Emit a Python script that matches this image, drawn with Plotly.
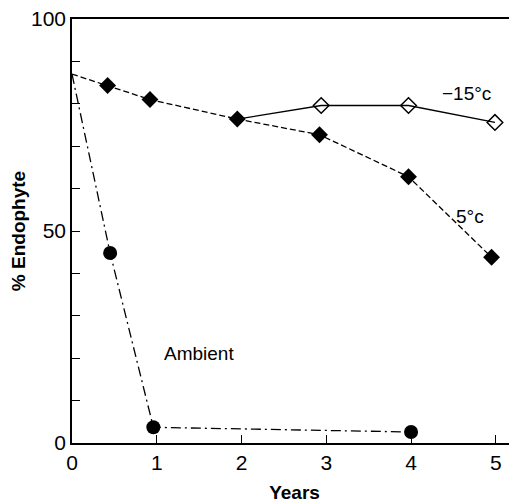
import plotly.graph_objects as go

# Data (years, % endophyte)
years_5c = [0, 0.42, 0.92, 1.95, 2.92, 3.97, 4.95]
vals_5c = [87, 84.3, 81, 76.4, 72.7, 62.8, 43.8]

years_m15 = [1.95, 2.94, 3.97, 4.99]
vals_m15 = [76.4, 79.6, 79.6, 75.6]

years_amb = [0, 0.45, 0.96, 4.0]
vals_amb = [87, 44.8, 3.7, 2.6]

labels = ["\u221215\u00b0c", "5\u00b0c", "Ambient"]
label_x = [4.65, 4.7, 1.5]
label_y = [82.5, 53.5, 21]

x_ticks = [0, 1, 2, 3, 4, 5]
y_ticks = [0, 50, 100]

fig = go.Figure()

fig.add_trace(go.Scatter(
    x=years_amb, y=vals_amb, mode="lines",
    line=dict(color="black", width=1.3, dash="10px,4px,2px,4px"),
    showlegend=False, hoverinfo="skip"))
fig.add_trace(go.Scatter(
    x=years_amb[1:], y=vals_amb[1:], mode="markers",
    marker=dict(symbol="circle", size=14, color="black"),
    showlegend=False))

fig.add_trace(go.Scatter(
    x=years_5c, y=vals_5c, mode="lines",
    line=dict(color="black", width=1.3, dash="6px,3px"),
    showlegend=False, hoverinfo="skip"))
fig.add_trace(go.Scatter(
    x=years_5c[1:], y=vals_5c[1:], mode="markers",
    marker=dict(symbol="diamond", size=13, color="black"),
    showlegend=False))

fig.add_trace(go.Scatter(
    x=years_m15, y=vals_m15, mode="lines",
    line=dict(color="black", width=1.3),
    showlegend=False, hoverinfo="skip"))
fig.add_trace(go.Scatter(
    x=years_m15[1:], y=vals_m15[1:], mode="markers",
    marker=dict(symbol="diamond-open", size=12, color="black",
                line=dict(width=1.5, color="black")),
    showlegend=False))

for t, lx, ly in zip(labels, label_x, label_y):
    fig.add_annotation(x=lx, y=ly, text=t, showarrow=False,
                       font=dict(family="Liberation Sans, Arial", size=19, color="black"))

fig.update_layout(
    width=509, height=495,
    margin=dict(l=64, r=0, t=11, b=60),
    plot_bgcolor="white", paper_bgcolor="white",
    font=dict(family="Liberation Sans, Arial", color="black"),
    xaxis=dict(range=[0, 5.25], tickvals=x_ticks, ticks="inside", ticklen=8,
               tickwidth=1.3, tickcolor="black", automargin=False, mirror=True,
               showgrid=False, zeroline=False, showline=True, linecolor="black",
               linewidth=1.5, tickfont=dict(size=21),
               title=dict(text="<b>Years</b>", font=dict(size=19), standoff=13)),
    yaxis=dict(range=[0, 100], tickvals=y_ticks, ticks="inside", ticklen=8,
               tickwidth=1.3, tickcolor="black", automargin=False,
               ticklabeloverflow="allow",
               minor=dict(tickvals=[10, 20, 30, 40, 60, 70, 80, 90], ticks="inside",
                          ticklen=8, tickcolor="black", tickwidth=1.3),
               showgrid=False, zeroline=False, showline=True, linecolor="black",
               linewidth=1.5, tickfont=dict(size=21),
               title=dict(text="<b>% Endophyte</b>", font=dict(size=19), standoff=16)),
)

fig.write_html("out.html")
